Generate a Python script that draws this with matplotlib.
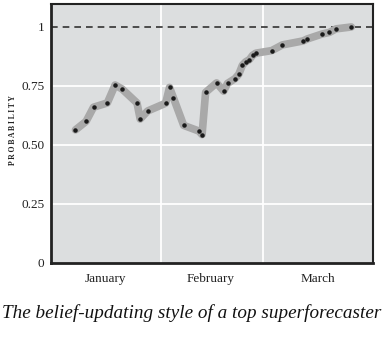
import numpy as np
import matplotlib.pyplot as plt

# day of year (Jan 1 = 0) and forecast probability
days = [6.9, 9.9, 12.0, 15.9, 18.1, 20.1, 24.3, 25.2, 27.3, 32.4, 33.5, 34.6,
        37.5, 41.8, 42.7, 43.7, 46.8, 48.8, 49.9, 52.0, 53.1, 54.1, 55.0, 56.1,
        57.0, 57.9, 62.4, 65.4, 71.3, 72.4, 76.6, 78.7, 80.6, 84.9]
prob = [0.564, 0.600, 0.660, 0.678, 0.754, 0.737, 0.678, 0.610, 0.644, 0.677,
        0.744, 0.700, 0.583, 0.559, 0.544, 0.723, 0.763, 0.728, 0.761, 0.781,
        0.800, 0.838, 0.852, 0.862, 0.880, 0.889, 0.900, 0.924, 0.941, 0.949,
        0.970, 0.977, 0.992, 1.0]

months = ["January", "February", "March"]
month_mid = [15.5, 45, 75.5]
month_edges = [31, 60]
yticks = [0, 0.25, 0.5, 0.75, 1]
ylabels = ["0", "0.25", "0.50", "0.75", "1"]

serif = "Liberation Serif"

fig = plt.figure(figsize=(3.84, 3.4), dpi=100)
ax = fig.add_axes([0.133, 0.2265, 0.838, 0.7615])
ax.set_facecolor("#dcdedf")

for y in [0.25, 0.5, 0.75]:
    ax.axhline(y, color="white", lw=1.3, zorder=1)
for x in month_edges:
    ax.axvline(x, color="white", lw=1.3, zorder=1)
ax.axhline(1, color="#333333", lw=1.2, ls=(0, (4, 3)), zorder=2)

ax.plot(days, prob, color="#a9a9a9", lw=5.5, solid_capstyle="round",
        solid_joinstyle="round", zorder=3)
ax.scatter(days, prob, s=5, color="#1a1a1a", zorder=4)

ax.set_xlim(0, 91)
ax.set_ylim(0, 1.097)
ax.set_yticks(yticks)
ax.set_yticklabels(ylabels, family=serif, fontsize=9.5, color="#222222")
ax.set_xticks(month_mid)
ax.set_xticklabels(months, family=serif, fontsize=9.5, color="#222222")
ax.tick_params(axis="y", length=0, pad=5)
ax.tick_params(axis="x", length=0, pad=7)

for s in ["left", "bottom"]:
    ax.spines[s].set_linewidth(2)
for s in ["right", "top"]:
    ax.spines[s].set_linewidth(1.5)
for s in ax.spines.values():
    s.set_color("#222222")

ax.set_ylabel("P R O B A B I L I T Y", family=serif, fontsize=5.5,
              fontweight="bold", color="#222222")
ax.yaxis.set_label_coords(-0.105, 0.512)

fig.text(0.5, 0.079, "The belief-updating style of a top superforecaster",
         family=serif, style="italic", fontsize=13.8, ha="center", va="center",
         color="#111111")

plt.savefig("out.png", dpi=100)
